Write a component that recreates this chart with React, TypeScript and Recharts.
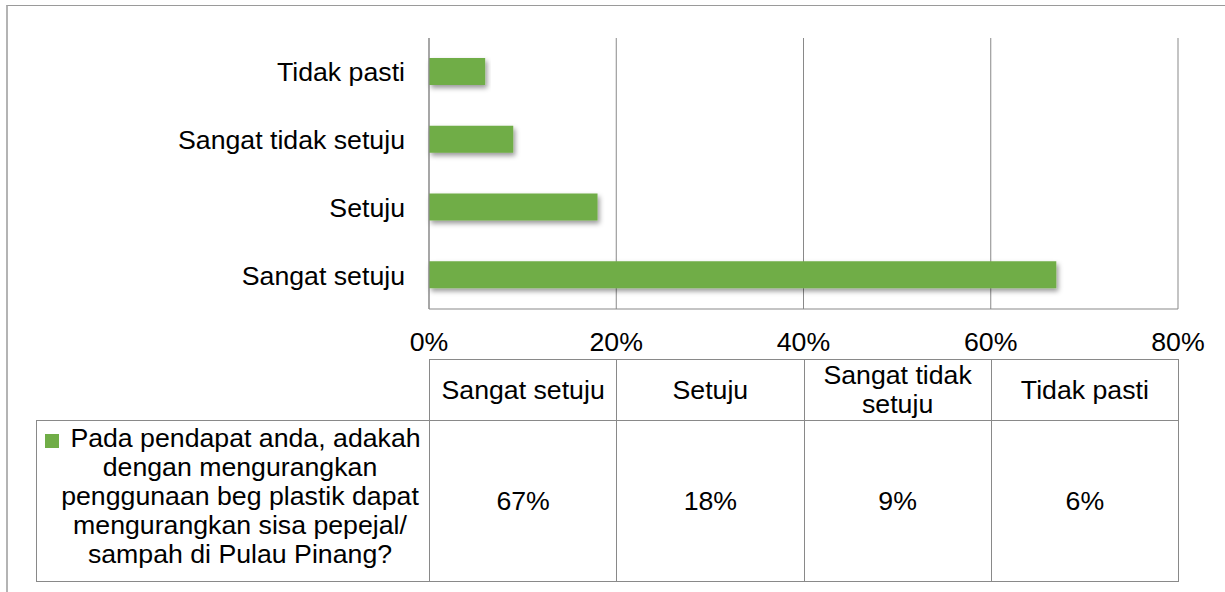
import { BarChart, Bar, XAxis, YAxis, CartesianGrid } from 'recharts';

const categories = ['Sangat setuju', 'Setuju', 'Sangat tidak setuju', 'Tidak pasti'];
const values = [67, 18, 9, 6];
const xTicks = [0, 20, 40, 60, 80];
const seriesName =
  'Pada pendapat anda, adakah dengan mengurangkan penggunaan beg plastik dapat mengurangkan sisa pepejal/ sampah di Pulau Pinang?';

const chartData = categories.map((category, i) => ({ category, value: values[i] }));

const GREEN = '#70AD47';
const LINE = '#898989';
const FONT = '"Liberation Sans", Arial, sans-serif';
const FS = 26.7;

const PLOT_LEFT = 429;
const PLOT_RIGHT = 1178;
const colWidth = (PLOT_RIGHT - PLOT_LEFT) / categories.length;

const ShadowBar = (props: any) => {
  const { x, y, width, height, fill } = props;
  return <rect x={x} y={y} width={width} height={height} fill={fill} filter="url(#barShadow)" />;
};

function DataTable() {
  const cell = {
    border: `1px solid ${LINE}`,
    textAlign: 'center' as const,
    verticalAlign: 'middle' as const,
    padding: '0 3px',
    fontSize: FS,
    lineHeight: '29px',
    color: '#000',
  };
  return (
    <table
      style={{
        position: 'absolute',
        left: 36,
        top: 359,
        borderCollapse: 'collapse',
        tableLayout: 'fixed',
        fontFamily: FONT,
        width: PLOT_RIGHT - 36,
      }}
    >
      <colgroup>
        <col style={{ width: PLOT_LEFT - 36 }} />
        {categories.map((c) => (
          <col key={c} style={{ width: colWidth }} />
        ))}
      </colgroup>
      <tbody>
        <tr style={{ height: 61 }}>
          <td style={{ border: 'none', borderBottom: `1px solid ${LINE}` }} />
          {categories.map((c) => (
            <td key={c} style={cell}>
              {c}
            </td>
          ))}
        </tr>
        <tr style={{ height: 161 }}>
          <td style={{ ...cell, padding: 0, position: 'relative' }}>
            <span
              style={{
                position: 'absolute',
                left: 8,
                top: 13,
                width: 14,
                height: 14,
                background: GREEN,
              }}
            />
            <div style={{ paddingLeft: 14, paddingBottom: 10, textIndent: 11 }}>{seriesName}</div>
          </td>
          {values.map((v, i) => (
            <td key={categories[i]} style={cell}>
              {v}%
            </td>
          ))}
        </tr>
      </tbody>
    </table>
  );
}

export default function App() {
  return (
    <div
      style={{
        position: 'absolute',
        left: 0,
        top: 0,
        width: 1225,
        height: 592,
        overflow: 'hidden',
        background: '#fff',
        fontFamily: FONT,
      }}
    >
      <div
        style={{
          position: 'absolute',
          left: 6,
          top: 5,
          width: 1400,
          height: 800,
          borderLeft: '2px solid #b4b4b4',
          borderTop: '1px solid #9a9a9a',
        }}
      />
      <div style={{ position: 'absolute', left: 0, top: 0 }}>
        <BarChart
          layout="vertical"
          width={1225}
          height={360}
          data={chartData}
          margin={{ top: 38, right: 1225 - PLOT_RIGHT, bottom: 0, left: 0 }}
          barSize={27}
        >
          <defs>
            <filter id="barShadow" x="-10%" y="-30%" width="120%" height="180%">
              <feDropShadow dx="2" dy="3" stdDeviation="2.5" floodColor="#000" floodOpacity="0.4" />
            </filter>
          </defs>
          <CartesianGrid horizontal={false} stroke={LINE} strokeWidth={1} />
          <XAxis
            type="number"
            domain={[0, 80]}
            ticks={xTicks}
            tickFormatter={(v: number) => `${v}%`}
            height={51}
            tickSize={0}
            tickMargin={23}
            axisLine={{ stroke: LINE }}
            tickLine={false}
            tick={{ fill: '#000', fontSize: FS, fontFamily: FONT }}
            interval={0}
          />
          <YAxis
            type="category"
            dataKey="category"
            reversed
            width={PLOT_LEFT}
            tickSize={0}
            tickMargin={24}
            axisLine={{ stroke: LINE }}
            tickLine={false}
            tick={{ fill: '#000', fontSize: FS, fontFamily: FONT }}
            interval={0}
          />
          <Bar dataKey="value" fill={GREEN} shape={ShadowBar} isAnimationActive={false} />
        </BarChart>
      </div>
      <DataTable />
    </div>
  );
}
